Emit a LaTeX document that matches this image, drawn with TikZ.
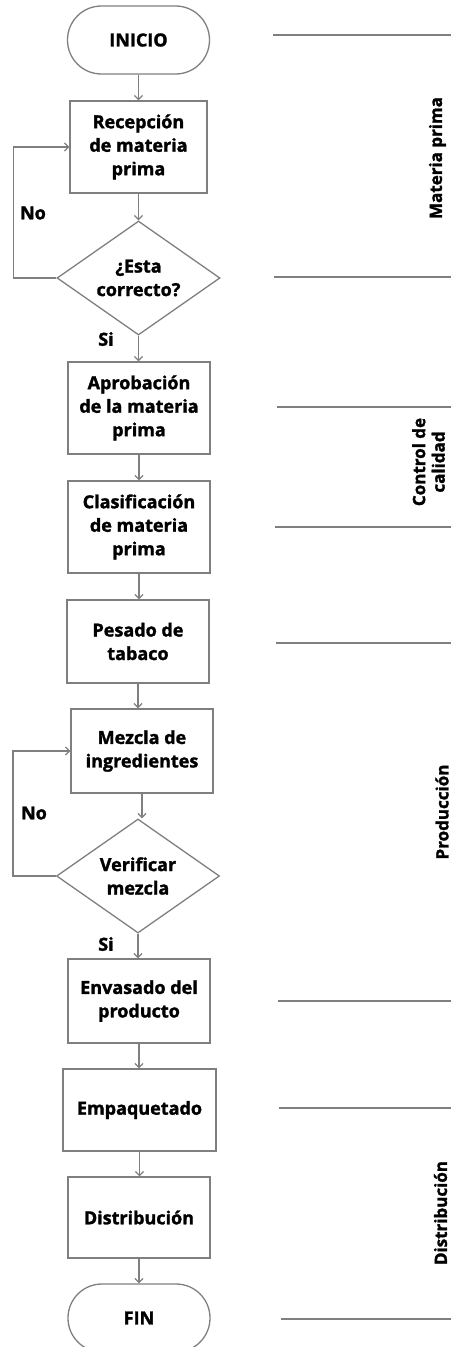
\documentclass[tikz,border=0pt]{standalone}
\usepackage{fontspec}
\setmainfont{Open Sans}[BoldFeatures={FakeBold=1.6}]
\usepackage{tikz}
\usetikzlibrary{shapes.geometric,arrows.meta}
\definecolor{lineagris}{HTML}{7F7F7F}
\tikzset{
  caja/.style={draw=lineagris,line width=1.3pt,align=center,inner sep=0pt,
    font=\fontsize{18}{23.5}\selectfont\bfseries},
  terminal/.style={caja,rounded corners=33.9pt,minimum width=142pt,minimum height=68pt},
  decision/.style={draw=lineagris,line width=1.3pt,diamond,inner sep=0pt,
    minimum width=163pt,minimum height=114pt},
  textodec/.style={align=center,inner sep=0pt,font=\fontsize{18}{23.5}\selectfont\bfseries},
  rotulo/.style={inner sep=0pt,font=\fontsize{18}{23.5}\selectfont\bfseries},
  etapa/.style={rotate=90,align=center,inner sep=0pt,font=\fontsize{17}{19.5}\selectfont\bfseries},
  flecha/.style={draw=lineagris,line width=1.3pt,-{Straight Barb[length=4pt,width=8pt]}},
  separador/.style={draw=lineagris,line width=1.3pt},
}

\begin{document}
\begin{tikzpicture}[x=1pt,y=-1pt]
  \useasboundingbox (0,0) rectangle (451,1347);
  % flujo principal
  \node[terminal] (ini) at (138.5,40) {INICIO};
  \node[caja,minimum width=137pt,minimum height=92pt] (rec) at (138.5,147) {Recepción\\de materia\\prima};
  \node[decision,label={[textodec]center:{¿Esta\\correcto?}}] (d1) at (138.5,278) {};
  \node[caja,minimum width=142pt,minimum height=92pt] (apr) at (139,408) {Aprobación\\de la materia\\prima};
  \node[caja,minimum width=142pt,minimum height=92pt] (cla) at (139,527) {Clasificación\\de materia\\prima};
  \node[caja,minimum width=142pt,minimum height=83pt] (pes) at (138,641.5) {Pesado de\\tabaco};
  \node[caja,minimum width=142pt,minimum height=84pt] (mez) at (142,751) {Mezcla de\\ingredientes};
  \node[decision,label={[textodec]center:{Verificar\\mezcla}}] (d2) at (138,876) {};
  \node[caja,minimum width=142pt,minimum height=84pt] (env) at (139,1001) {Envasado del\\producto};
  \node[caja,minimum width=153pt,minimum height=82pt] (emp) at (139.5,1110) {Empaquetado};
  \node[caja,minimum width=142pt,minimum height=81pt] (dis) at (139,1217.5) {Distribución};
  \node[terminal] (fin) at (139,1318) {FIN};

  \foreach \a/\b in {ini/rec,rec/d1,d1/apr,apr/cla,cla/pes,pes/mez,mez/d2,d2/env,env/emp,emp/dis,dis/fin}{
    \draw[flecha] (\a) -- (\a |- \b.north);
  }
  % lazos de rechazo
  \draw[flecha] (d1.west) -- ++(-43,0) |- (rec.west);
  \draw[flecha] (d2.west) -- ++(-43,0) |- (mez.west);
  \node[rotulo] (no1) at (33,213) {No};
  \node[rotulo] (si1) at (106,339) {Si};
  \node[rotulo] (no2) at (34,813) {No};
  \node[rotulo] (si2) at (106,944) {Si};

  % etapas
  \foreach \xi/\yi in {273/35,274/277,277/407,275/527,276/643,278/1001,279/1108,281/1319}{
    \draw[separador] (\xi,\yi) -- (451,\yi);
  }
  \node[etapa] (mat) at (437.5,158) {Materia prima};
  \node[etapa] (cal) at (428.5,462) {Control de\\calidad};
  \node[etapa] (pro) at (442,812) {Producción};
  \node[etapa] (dtr) at (440.5,1213) {Distribución};
\end{tikzpicture}
\end{document}
